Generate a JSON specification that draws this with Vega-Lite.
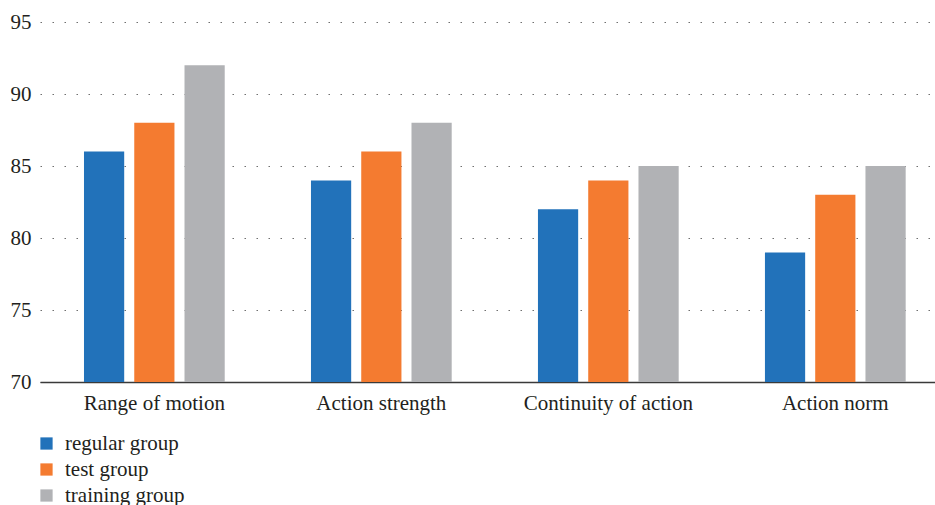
{
  "$schema": "https://vega.github.io/schema/vega-lite/v6.json",
  "autosize": {"type": "none"},
  "width": 895,
  "height": 360,
  "padding": {"left": 40, "top": 22, "right": 0, "bottom": 123},
  "background": "white",
  "config": {
    "font": "Liberation Serif",
    "view": {"stroke": null},
    "axis": {"labelColor": "#231f20", "labelFont": "Liberation Serif"},
    "legend": {"labelColor": "#231f20", "labelFont": "Liberation Serif"}
  },
  "data": {
    "values": [
      {"category": "Range of motion", "group": "regular group", "value": 86},
      {"category": "Range of motion", "group": "test group", "value": 88},
      {"category": "Range of motion", "group": "training group", "value": 92},
      {"category": "Action strength", "group": "regular group", "value": 84},
      {"category": "Action strength", "group": "test group", "value": 86},
      {"category": "Action strength", "group": "training group", "value": 88},
      {"category": "Continuity of action", "group": "regular group", "value": 82},
      {"category": "Continuity of action", "group": "test group", "value": 84},
      {"category": "Continuity of action", "group": "training group", "value": 85},
      {"category": "Action norm", "group": "regular group", "value": 79},
      {"category": "Action norm", "group": "test group", "value": 83},
      {"category": "Action norm", "group": "training group", "value": 85}
    ]
  },
  "mark": {"type": "bar"},
  "encoding": {
    "x": {
      "field": "category",
      "type": "nominal",
      "sort": ["Range of motion", "Action strength", "Continuity of action", "Action norm"],
      "scale": {"paddingInner": 0.38, "paddingOuter": 0.1615, "align": 0.6},
      "axis": {
        "title": null,
        "labelAngle": 0,
        "labelFontSize": 21,
        "labelPadding": 10,
        "ticks": false,
        "domainColor": "#3a3a3a",
        "domainWidth": 1.5
      }
    },
    "xOffset": {
      "field": "group",
      "type": "nominal",
      "scale": {"paddingInner": 0.2, "paddingOuter": 0}
    },
    "y": {
      "field": "value",
      "type": "quantitative",
      "scale": {"domain": [70, 95], "nice": false, "zero": false},
      "axis": {
        "title": null,
        "values": [70, 75, 80, 85, 90, 95],
        "domain": false,
        "ticks": false,
        "labelFontSize": 21,
        "labelPadding": 9,
        "grid": true,
        "gridColor": "#6f6f6f",
        "gridDash": [1.5, 10.5],
        "gridWidth": 1.2
      }
    },
    "y2": {"datum": 70},
    "color": {
      "field": "group",
      "type": "nominal",
      "scale": {
        "domain": ["regular group", "test group", "training group"],
        "range": ["#2272ba", "#f47b30", "#b1b2b5"]
      },
      "legend": {
        "title": null,
        "orient": "none",
        "legendX": -4,
        "legendY": 411,
        "direction": "vertical",
        "symbolType": "square",
        "symbolSize": 150,
        "symbolStrokeWidth": 0,
        "labelFontSize": 21,
        "labelOffset": 8,
        "rowPadding": 4,
        "padding": 0
      }
    }
  }
}
